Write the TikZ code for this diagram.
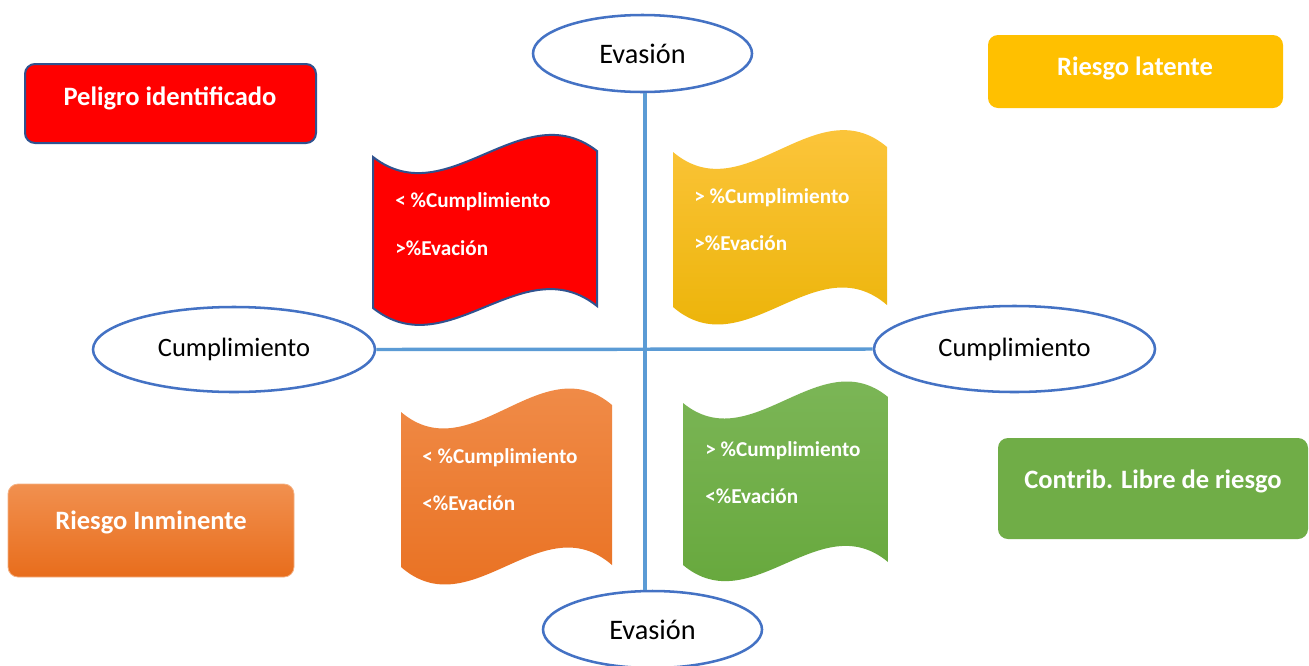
\documentclass[tikz,border=0pt]{standalone}
\usepackage{fontspec}
\setmainfont{Carlito}
\usetikzlibrary{shapes.geometric}
\definecolor{ellblue}{HTML}{4472C4}
\definecolor{lineblue}{HTML}{5B9BD5}
\definecolor{darkborder}{HTML}{2F528F}
\definecolor{redc}{HTML}{FF0000}
\definecolor{yelbox}{HTML}{FFC000}
\definecolor{yeltop}{HTML}{FFC845}
\definecolor{yelbot}{HTML}{E9B100}
\definecolor{ortop}{HTML}{F1904F}
\definecolor{orbot}{HTML}{E86D1C}
\definecolor{orline}{HTML}{F4B183}
\definecolor{grtop}{HTML}{7FB85B}
\definecolor{grbot}{HTML}{64A639}
\definecolor{grbox}{HTML}{70AD47}
\newcommand\wavefill[8]{%
  \pgfmathsetmacro\wxa{#2+(#3-#2)/3}%
  \pgfmathsetmacro\wxb{#2+2*(#3-#2)/3}%
  \pgfmathsetmacro\wya{#4+(#5-#4)/3+#8}%
  \pgfmathsetmacro\wyb{#4+2*(#5-#4)/3-#8}%
  \pgfmathsetmacro\wyc{#6+(#7-#6)/3+#8}%
  \pgfmathsetmacro\wyd{#6+2*(#7-#6)/3-#8}%
  \path[#1] (#2,#4) .. controls (\wxa,\wya) and (\wxb,\wyb) .. (#3,#5)
    -- (#3,#7) .. controls (\wxb,\wyd) and (\wxa,\wyc) .. (#2,#6) -- cycle;
}
\tikzset{
  ell/.style={ellipse, draw=ellblue, line width=1.9pt, fill=white, inner sep=0pt},
  evtext/.style={font=\fontsize{21.2pt}{24pt}\selectfont},
  cutext/.style={font=\fontsize{19.9pt}{24pt}\selectfont},
  conn/.style={draw=lineblue, line width=2.6pt},
  rbox/.style={rectangle, rounded corners=7.5pt, inner sep=0pt},
  boxtext/.style={anchor=base, inner sep=0pt, text=white, font=\fontsize{19.9pt}{24pt}\selectfont\bfseries},
  wavetext/.style={anchor=base west, inner sep=0pt, text=white, font=\fontsize{15.9pt}{19pt}\selectfont\bfseries}
}
\begin{document}
\begin{tikzpicture}[x=0.75pt,y=-0.75pt]
\useasboundingbox[fill=white] (0,0) rectangle (1309,665);

% wave shapes
\wavefill{fill=redc, draw=darkborder, line width=1.5pt}{373}{597}{157}{151}{308}{306}{60}
\wavefill{top color=yeltop, bottom color=yelbot}{673}{887}{152}{147}{307}{305}{62}
\wavefill{top color=ortop, bottom color=orbot}{401}{612}{412}{405}{567}{565}{62}
\wavefill{top color=grtop, bottom color=grbot}{683}{888}{403}{397}{565}{562}{58}

% wave texts
\node[wavetext] (r1) at (395,207) {< \%Cumplimiento};
\node[wavetext] (r2) at (395,255) {>\%Evación};
\node[wavetext] (y1) at (694,203) {> \%Cumplimiento};
\node[wavetext] (y2) at (694,250) {>\%Evación};
\node[wavetext] (o1) at (422,463) {< \%Cumplimiento};
\node[wavetext] (o2) at (422,510) {<\%Evación};
\node[wavetext] (g1) at (705,456) {> \%Cumplimiento};
\node[wavetext] (g2) at (705,503) {<\%Evación};

% boxes
\node[rbox, fill=redc, draw=darkborder, line width=1.5pt, minimum width=218.25pt, minimum height=59.25pt] (bpel) at (170.5,103.5) {};
\node[boxtext] (tpel) at (170,105) {Peligro identificado};
\node[rbox, fill=yelbox, minimum width=221.25pt, minimum height=54.75pt] (blat) at (1135.5,71.5) {};
\node[boxtext] (tlat) at (1135,75) {Riesgo latente};
\node[rbox, top color=ortop, bottom color=orbot, draw=orline, line width=0.6pt, minimum width=214.5pt, minimum height=69.75pt] (binm) at (151,530.5) {};
\node[boxtext] (tinm) at (151,529) {Riesgo Inminente};
\node[rbox, fill=grbox, minimum width=232.5pt, minimum height=75.75pt] (blib) at (1153,488.5) {};
\node[boxtext] (tlib) at (1153,488) {Contrib. Libre de riesgo};

% ellipses
\node[ell, evtext, minimum width=164.25pt, minimum height=57.75pt] (evtop) at (642.5,53.5) {Evasión};
\node[ell, evtext, minimum width=164.25pt, minimum height=57.75pt] (evbot) at (652.5,629.5) {Evasión};
\node[ell, cutext, minimum width=211.5pt, minimum height=63.75pt] (cuL) at (234,349.5) {Cumplimiento};
\node[ell, cutext, minimum width=210.75pt, minimum height=64.5pt] (cuR) at (1014.5,349) {Cumplimiento};

% connectors
\coordinate (vx) at (645,0);
\draw[conn] (evtop.south -| vx) -- (evbot.north -| vx);
\draw[conn] (cuL.east) -- (cuR.west);
\end{tikzpicture}
\end{document}
